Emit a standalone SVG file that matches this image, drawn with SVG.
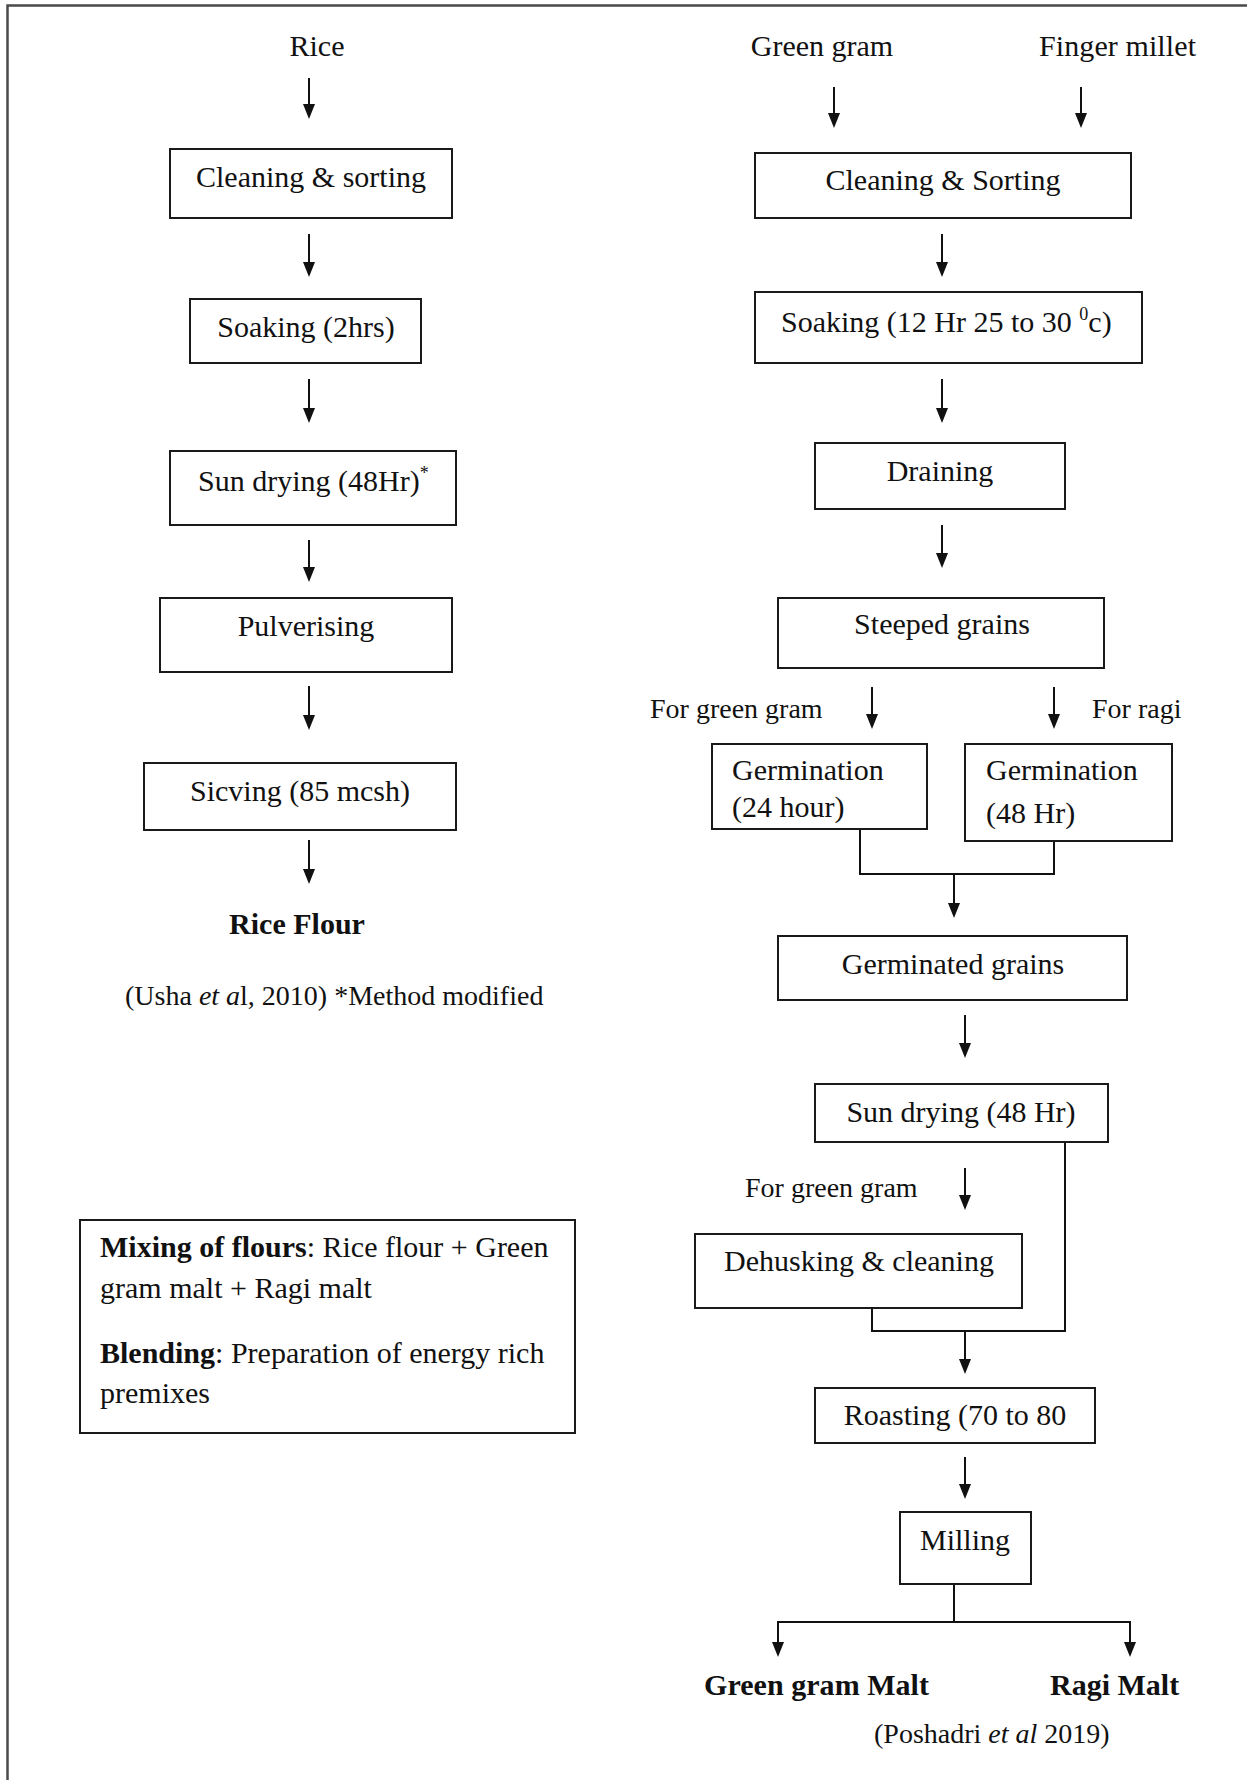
<svg xmlns="http://www.w3.org/2000/svg" width="1247" height="1780" viewBox="0 0 1247 1780">
<style>
.box{fill:#fff;stroke:#1a1a1a;stroke-width:2}
.t{font-family:"Liberation Serif","Times New Roman",serif;font-size:30px;fill:#111}
.c{text-anchor:middle}
.b{font-weight:bold}
.sm{font-size:28px}
.edge{stroke:#111;stroke-width:2;fill:none}
.arr{marker-end:url(#ah)}
.frame{stroke:#4a4a4a;stroke-width:2.5;fill:none}
</style>
<defs>
<marker id="ah" markerUnits="userSpaceOnUse" markerWidth="15" markerHeight="12" viewBox="0 0 15 12" refX="11" refY="6" orient="auto">
<path d="M0,0 L15,6 L0,12 z" fill="#111"/>
</marker>
</defs>
<rect width="1247" height="1780" fill="#fff"/>
<path class="frame" d="M7.5,1780 V5.5 H1247"/>

<g id="connectors">
<line class="edge arr" x1="309" y1="78" x2="309" y2="115"/>
<line class="edge arr" x1="309" y1="234" x2="309" y2="273"/>
<line class="edge arr" x1="309" y1="379" x2="309" y2="419"/>
<line class="edge arr" x1="309" y1="540" x2="309" y2="578"/>
<line class="edge arr" x1="309" y1="686" x2="309" y2="726"/>
<line class="edge arr" x1="309" y1="840" x2="309" y2="880"/>
<line class="edge arr" x1="834" y1="87" x2="834" y2="124"/>
<line class="edge arr" x1="1081" y1="87" x2="1081" y2="124"/>
<line class="edge arr" x1="942" y1="234" x2="942" y2="273"/>
<line class="edge arr" x1="942" y1="379" x2="942" y2="419"/>
<line class="edge arr" x1="942" y1="525" x2="942" y2="564"/>
<line class="edge arr" x1="872" y1="687" x2="872" y2="725"/>
<line class="edge arr" x1="1054" y1="687" x2="1054" y2="725"/>
<path class="edge" d="M860,829 V874 H1054 V841"/>
<line class="edge arr" x1="954" y1="874" x2="954" y2="914"/>
<line class="edge arr" x1="965" y1="1015" x2="965" y2="1054"/>
<line class="edge arr" x1="965" y1="1168" x2="965" y2="1206"/>
<path class="edge" d="M1065,1142 V1331 H872 V1308"/>
<line class="edge arr" x1="965" y1="1331" x2="965" y2="1370"/>
<line class="edge arr" x1="965" y1="1457" x2="965" y2="1495"/>
<line class="edge" x1="954" y1="1584" x2="954" y2="1622"/>
<path class="edge arr" d="M954,1622 H778 V1653"/>
<path class="edge arr" d="M954,1622 H1130 V1653"/>
</g>

<g id="rice"><text class="t c" x="317" y="56">Rice</text></g>
<g id="clean-sort-rice"><rect class="box" x="170" y="149" width="282" height="69"/><text class="t c" x="311" y="187">Cleaning &amp; sorting</text></g>
<g id="soak-rice"><rect class="box" x="190" y="299" width="231" height="64"/><text class="t c" x="306" y="337">Soaking (2hrs)</text></g>
<g id="sundry-rice"><rect class="box" x="170" y="451" width="286" height="74"/><text class="t" x="198" y="491">Sun drying (48Hr)<tspan font-size="18" dy="-12">*</tspan></text></g>
<g id="pulverising"><rect class="box" x="160" y="598" width="292" height="74"/><text class="t c" x="306" y="636">Pulverising</text></g>
<g id="sieving"><rect class="box" x="144" y="763" width="312" height="67"/><text class="t c" x="300" y="801">Sicving (85 mcsh)</text></g>
<g id="rice-flour"><text class="t c b" x="297" y="934" font-size="29">Rice Flour</text></g>
<g id="ref-usha"><text class="t sm" x="125" y="1005">(Usha <tspan font-style="italic">et a</tspan>l, 2010) *Method modified</text></g>

<g id="mixing"><rect class="box" x="80" y="1220" width="495" height="213"/>
<text class="t" x="100" y="1257"><tspan class="b">Mixing of flours</tspan>: Rice flour + Green</text>
<text class="t" x="100" y="1298">gram malt + Ragi malt</text>
<text class="t" x="100" y="1363"><tspan class="b">Blending</tspan>: Preparation of energy rich</text>
<text class="t" x="100" y="1403">premixes</text>
</g>

<g id="green-gram"><text class="t c" x="822" y="56">Green gram</text></g>
<g id="finger-millet"><text class="t" x="1039" y="56" textLength="157">Finger millet</text></g>
<g id="clean-sort"><rect class="box" x="755" y="153" width="376" height="65"/><text class="t c" x="943" y="190">Cleaning &amp; Sorting</text></g>
<g id="soak"><rect class="box" x="755" y="292" width="387" height="71"/><text class="t" x="781" y="332">Soaking (12 Hr 25 to 30 <tspan font-size="18" dy="-12">0</tspan><tspan dy="12">c)</tspan></text></g>
<g id="draining"><rect class="box" x="815" y="443" width="250" height="66"/><text class="t c" x="940" y="481">Draining</text></g>
<g id="steeped"><rect class="box" x="778" y="598" width="326" height="70"/><text class="t c" x="942" y="634">Steeped grains</text></g>
<g id="lbl-gg1"><text class="t sm" x="650" y="718">For green gram</text></g>
<g id="lbl-ragi"><text class="t sm" x="1092" y="718">For ragi</text></g>
<g id="germ24"><rect class="box" x="712" y="744" width="215" height="85"/><text class="t" x="732" y="780">Germination</text><text class="t" x="732" y="817">(24 hour)</text></g>
<g id="germ48"><rect class="box" x="965" y="744" width="207" height="97"/><text class="t" x="986" y="780">Germination</text><text class="t" x="986" y="823">(48 Hr)</text></g>
<g id="germinated"><rect class="box" x="778" y="936" width="349" height="64"/><text class="t c" x="953" y="974">Germinated grains</text></g>
<g id="sundry"><rect class="box" x="815" y="1084" width="293" height="58"/><text class="t c" x="961" y="1122">Sun drying (48 Hr)</text></g>
<g id="lbl-gg2"><text class="t sm" x="745" y="1197">For green gram</text></g>
<g id="dehusk"><rect class="box" x="695" y="1234" width="327" height="74"/><text class="t c" x="859" y="1271">Dehusking &amp; cleaning</text></g>
<g id="roasting"><rect class="box" x="815" y="1388" width="280" height="55"/><text class="t c" x="955" y="1425">Roasting (70 to 80</text></g>
<g id="milling"><rect class="box" x="900" y="1512" width="131" height="72"/><text class="t c" x="965" y="1550">Milling</text></g>
<g id="gg-malt"><text class="t b" x="704" y="1695" textLength="225">Green gram Malt</text></g>
<g id="ragi-malt"><text class="t b" x="1050" y="1695">Ragi Malt</text></g>
<g id="ref-poshadri"><text class="t sm" x="874" y="1743">(Poshadri <tspan font-style="italic">et al</tspan> 2019)</text></g>
</svg>
